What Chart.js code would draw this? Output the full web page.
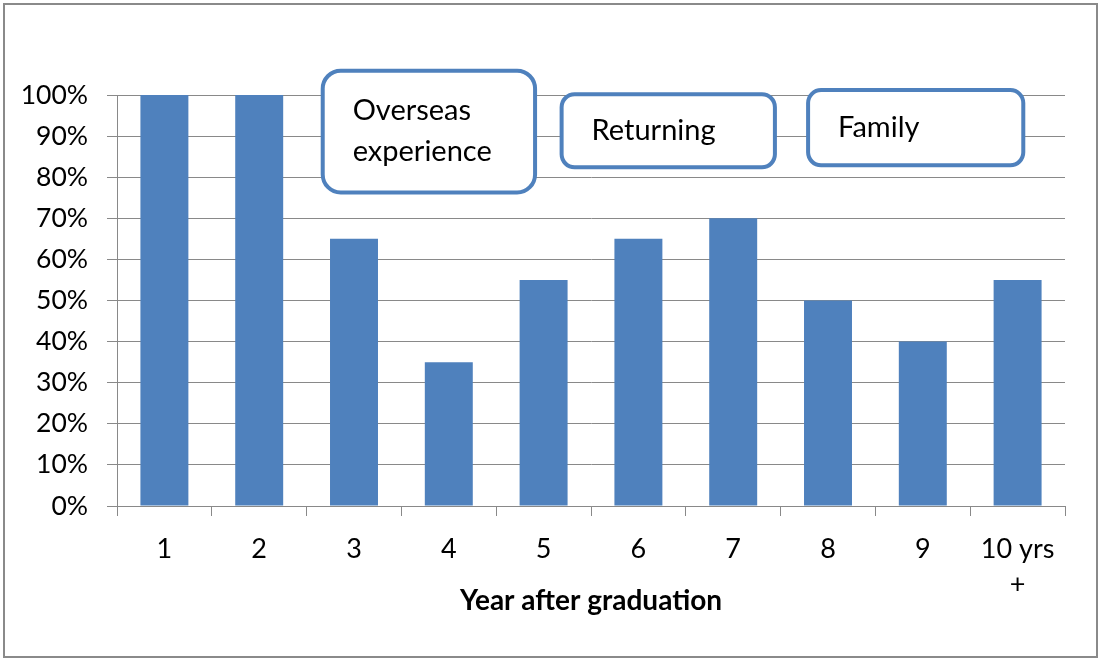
<!DOCTYPE html>
<html>
<head>
<meta charset="utf-8">
<style>
  html, body { margin: 0; padding: 0; background: #fff; }
  canvas { display: block; }
</style>
<script src="https://cdn.jsdelivr.net/npm/chart.js@4/dist/chart.umd.min.js"></script>
</head>
<body>
<canvas id="grafikon" width="1101" height="661"></canvas>
<script>
// podaci
const godine = ['1', '2', '3', '4', '5', '6', '7', '8', '9', ['10 yrs', '+']];
const udio = [100, 100, 65, 35, 55, 65, 70, 50, 40, 55];
const naslovOsiX = 'Year after graduation';
const oznakeOkvira = [['Overseas', 'experience'], ['Returning'], ['Family']];

const plava = '#4F81BD';
const siva = '#898989';
const fontObitelj = 'Lato, "Open Sans", sans-serif';

// okviri s natpisima (u jedinicama osi)
const okviri = [
    { od: 1.67, do: 3.91, gore: 105.9, dolje: 76.3, radijus: 18 },
    { od: 4.19, do: 6.44, gore: 100.2, dolje: 82.4, radijus: 13 },
    { od: 6.79, do: 9.06, gore: 101.2, dolje: 82.9, radijus: 13 }
];

function zaobljeniPravokutnik(ctx, x, y, w, h, r) {
    ctx.beginPath();
    ctx.moveTo(x + r, y);
    ctx.lineTo(x + w - r, y);
    ctx.arcTo(x + w, y, x + w, y + r, r);
    ctx.lineTo(x + w, y + h - r);
    ctx.arcTo(x + w, y + h, x + w - r, y + h, r);
    ctx.lineTo(x + r, y + h);
    ctx.arcTo(x, y + h, x, y + h - r, r);
    ctx.lineTo(x, y + r);
    ctx.arcTo(x, y, x + r, y, r);
    ctx.closePath();
}

const pozadinaIOkvir = {
    id: 'pozadinaIOkvir',
    beforeDraw(chart) {
        const ctx = chart.ctx;
        ctx.save();
        ctx.fillStyle = '#fff';
        ctx.fillRect(0, 0, chart.width, chart.height);
        ctx.restore();
    },
    afterDraw(chart) {
        const ctx = chart.ctx;
        ctx.save();
        ctx.strokeStyle = '#8a8a8a';
        ctx.lineWidth = 2;
        ctx.strokeRect(4, 4, chart.width - 8, chart.height - 8);
        ctx.restore();
    }
};

const natpisi = {
    id: 'natpisi',
    afterDatasetsDraw(chart) {
        const ctx = chart.ctx;
        const x = chart.scales.x;
        const y = chart.scales.y;
        ctx.save();
        okviri.forEach(function(o, i) {
            const lijevo = x.getPixelForValue(o.od);
            const desno = x.getPixelForValue(o.do);
            const vrh = y.getPixelForValue(o.gore);
            const dno = y.getPixelForValue(o.dolje);
            zaobljeniPravokutnik(ctx, lijevo, vrh, desno - lijevo, dno - vrh, o.radijus);
            ctx.fillStyle = '#fff';
            ctx.fill();
            ctx.lineWidth = 4;
            ctx.strokeStyle = plava;
            ctx.stroke();

            const linije = oznakeOkvira[i];
            const razmak = 41;
            const sredina = (vrh + dno) / 2;
            ctx.fillStyle = '#000';
            ctx.font = '29px ' + fontObitelj;
            ctx.textAlign = 'left';
            ctx.textBaseline = 'middle';
            linije.forEach(function(t, j) {
                const ty = sredina + (j - (linije.length - 1) / 2) * razmak;
                ctx.fillText(t, lijevo + 30, ty);
            });
        });
        ctx.restore();
    }
};

new Chart(document.getElementById('grafikon'), {
    type: 'bar',
    data: {
        labels: godine,
        datasets: [{
            data: udio,
            backgroundColor: plava,
            borderWidth: 0,
            barPercentage: 0.506,
            categoryPercentage: 1
        }]
    },
    options: {
        responsive: false,
        animation: false,
        layout: { padding: { top: 95, right: 36, left: 0, bottom: 0 } },
        plugins: {
            legend: { display: false },
            tooltip: { enabled: false }
        },
        scales: {
            x: {
                grid: {
                    display: true,
                    drawOnChartArea: false,
                    drawTicks: true,
                    tickLength: 10,
                    color: siva,
                    offset: true
                },
                border: { color: siva, width: 1 },
                ticks: {
                    color: '#000',
                    font: { family: fontObitelj, size: 27, lineHeight: 1.3 },
                    padding: 16,
                    maxRotation: 0,
                    autoSkip: false
                },
                title: {
                    display: true,
                    text: naslovOsiX,
                    color: '#000',
                    font: { family: fontObitelj, size: 28, weight: 'bold', lineHeight: 1.2 },
                    padding: { top: 0, bottom: 43 }
                },
                afterFit: function(s) { s.height = 155; }
            },
            y: {
                min: 0,
                max: 100,
                grid: { color: siva, tickLength: 10 },
                border: { color: siva, width: 1 },
                ticks: {
                    stepSize: 10,
                    color: '#000',
                    font: { family: fontObitelj, size: 26.5 },
                    padding: 19,
                    callback: function(v) { return v + '%'; }
                },
                afterFit: function(s) { s.width = 117; }
            }
        }
    },
    plugins: [pozadinaIOkvir, natpisi]
});
</script>
</body>
</html>
